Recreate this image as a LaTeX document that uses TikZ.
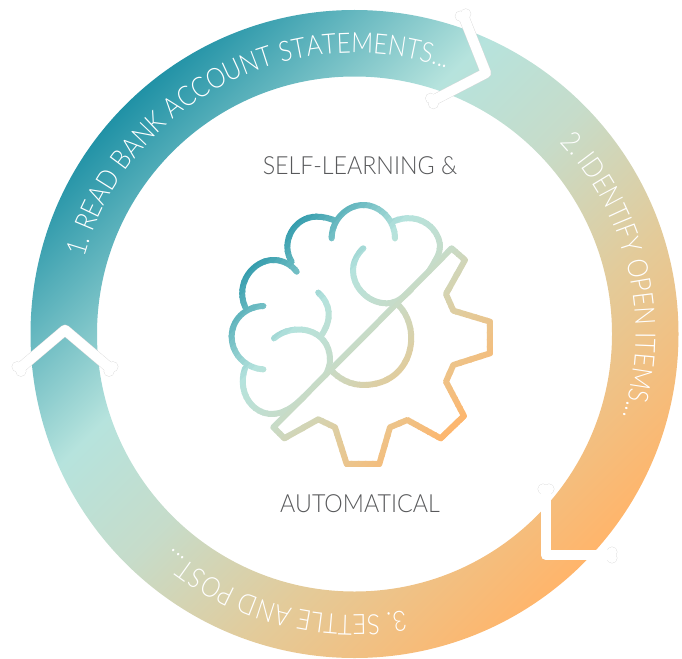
\documentclass[tikz,border=0pt]{standalone}
\usepackage{fontspec}
\setmainfont{Lato}[UprightFont=* Light]
\newfontfamily\ringfont{Lato}[UprightFont=* Light, FakeStretch=0.86]
\newfontfamily\headfont{Lato}[UprightFont=* Light, FakeStretch=0.93]
\usetikzlibrary{decorations.text,calc}

\definecolor{loopteal}{HTML}{2192A6}
\definecolor{looplight}{HTML}{B6E3DD}
\definecolor{loopsage}{HTML}{C6DCCA}
\definecolor{loopsand}{HTML}{E3CB9A}
\definecolor{looporange}{HTML}{FFB56B}
\definecolor{headtext}{HTML}{58595B}
\pgfdeclarehorizontalshading{loopgrad}{100bp}{
    color(0bp)=(loopteal); color(25bp)=(loopteal);
    color(41bp)=(looplight); color(50bp)=(loopsage);
    color(61bp)=(loopsand); color(75bp)=(looporange); color(100bp)=(looporange)}

\tikzset{
    ringtext/.style={
        decorate,
        decoration={text along path, text align=center,
            text={|\ringfont\fontsize{28}{28}\selectfont\color{white}|#1}}},
    headline/.style={text=headtext, font=\headfont\fontsize{25}{25}\selectfont, inner sep=0pt},
    brainline/.style={line width=6pt, line cap=round, line join=round}
}

% white bent bar with knobbed ends
\newcommand{\bonebar}[3]{
    \draw[gray!30, line width=10.8pt, line join=round] (#1) -- (#2) -- (#3);
    \foreach \e in {#1,#3} {
        \fill[gray!30] ($(\e)!3pt!90:(#2)$) circle[radius=5.4pt];
        \fill[gray!30] ($(\e)!3pt!-90:(#2)$) circle[radius=5.4pt];
    }
    \draw[white, line width=10pt, line join=round] (#1) -- (#2) -- (#3);
    \foreach \e in {#1,#3} {
        \fill[white] ($(\e)!3pt!90:(#2)$) circle[radius=5pt];
        \fill[white] ($(\e)!3pt!-90:(#2)$) circle[radius=5pt];
    }
}

\newcommand{\brainstrokes}{
    \begin{scope}[shift={(200,190)}, x=0.3333pt, y=-0.3333pt]
        % gear and its diagonal
        \draw (220,712) -- (755,175) -- (795,210) -- (738,312) -- (760,362) -- (870,395)
            -- (870,490) -- (760,525) -- (738,575) -- (792,678) -- (722,745) -- (622,690)
            -- (570,712) -- (538,822) -- (440,822) -- (405,712) -- (355,688) -- (253,745) -- cycle;
        % half wheel
        \draw (592,342) .. controls (670,415) and (640,585) .. (490,585)
            .. controls (450,585) and (415,565) .. (393,540);
        % brain outline
        \draw (312,620) .. controls (280,652) and (250,672) .. (215,672)
            .. controls (160,672) and (110,610) .. (135,535);
        \draw (190,538) .. controls (135,535) and (95,490) .. (95,440)
            .. controls (95,390) and (135,350) .. (190,348);
        \draw (135,350) .. controls (105,280) and (160,210) .. (220,210)
            .. controls (250,210) and (275,225) .. (290,245);
        \draw (275,215) .. controls (240,160) and (280,80) .. (350,80)
            .. controls (370,80) and (390,85) .. (405,92);
        \draw (395,145) .. controls (395,90) and (440,45) .. (490,45)
            .. controls (540,45) and (585,90) .. (585,145);
        \draw (578,95) .. controls (660,60) and (720,120) .. (720,170)
            .. controls (720,190) and (708,210) .. (686,245);
        % inner folds
        \draw (490,175) .. controls (420,240) and (480,340) .. (560,340)
            .. controls (590,340) and (610,322) .. (634,298);
        \draw (355,308) .. controls (395,345) and (395,390) .. (365,435);
        \draw (222,445) .. controls (280,395) and (390,415) .. (390,510)
            .. controls (390,525) and (385,540) .. (376,556);
    \end{scope}
}

\begin{document}
\begin{tikzpicture}[x=1pt, y=-1pt]
    \useasboundingbox (0,0) rectangle (682,658);
    \coordinate (ringc) at (354.5,334);

    \shade[shading=loopgrad, shading angle=-45, even odd rule]
        (ringc) circle[radius=324pt] (ringc) circle[radius=257.5pt];

    \path[ringtext={1. READ BANK ACCOUNT STATEMENTS...}]
        (ringc) ++(175:281pt) arc[start angle=175, end angle=60, radius=281pt];
    \path[ringtext={2. IDENTIFY OPEN ITEMS...}]
        (ringc) ++(54:281pt) arc[start angle=54, end angle=-28, radius=281pt];
    \path[ringtext={3. SETTLE AND POST...}]
        (ringc) ++(-70:281pt) arc[start angle=-70, end angle=-140, radius=281pt];

    \coordinate (topa) at (463,15);
    \coordinate (topb) at (486,73);
    \coordinate (topc) at (432,101);
    \bonebar{topa}{topb}{topc}
    \coordinate (lowa) at (546,489);
    \coordinate (lowb) at (546,555);
    \coordinate (lowc) at (612,555);
    \bonebar{lowa}{lowb}{lowc}
    \coordinate (lefta) at (19,369);
    \coordinate (leftb) at (65,330);
    \coordinate (leftc) at (111,369);
    \bonebar{lefta}{leftb}{leftc}

    \node[headline] (selflearning) at (360,166) {SELF-LEARNING \&};
    \node[headline] (automatical) at (360,504) {AUTOMATICAL};

    % head and gear, painted strip by strip along the same slant as the ring
    \foreach \stripno in {0,...,54} {
        \pgfmathsetmacro\stripd{-137.5+5*\stripno}
        \pgfmathsetmacro\stripp{50+25*(\stripd+2.5)/137.5}
        \ifdim\stripp pt<41pt
            \pgfmathsetmacro\stripm{100*(\stripp-25)/16}
            \colorlet{stripcol}{looplight!\stripm!loopteal}
        \else\ifdim\stripp pt<50pt
            \pgfmathsetmacro\stripm{100*(\stripp-41)/9}
            \colorlet{stripcol}{loopsage!\stripm!looplight}
        \else\ifdim\stripp pt<61pt
            \pgfmathsetmacro\stripm{100*(\stripp-50)/11}
            \colorlet{stripcol}{loopsand!\stripm!loopsage}
        \else
            \pgfmathsetmacro\stripm{100*(\stripp-61)/14}
            \colorlet{stripcol}{looporange!\stripm!loopsand}
        \fi\fi\fi
        \begin{scope}[brainline, color=stripcol]
            \clip[rotate around={-45:(360,335)}]
                ({360+\stripd},100) rectangle ({360+\stripd+6},570);
            \brainstrokes
        \end{scope}
    }
\end{tikzpicture}
\end{document}
